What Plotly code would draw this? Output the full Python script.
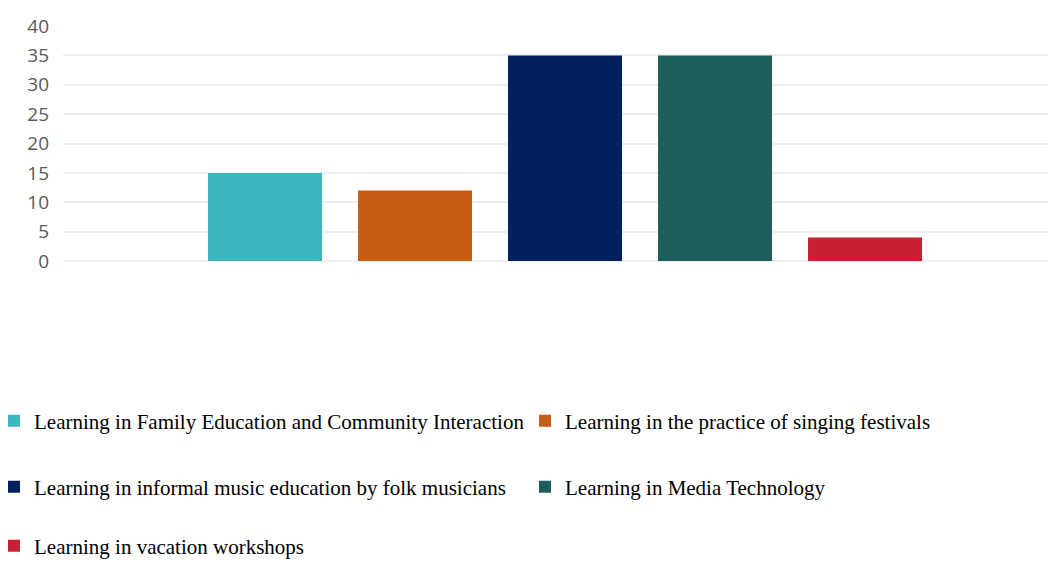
import plotly.graph_objects as go

categories = [""]
series_names = [
    "Learning in Family Education and Community Interaction",
    "Learning in the practice of singing festivals",
    "Learning in informal music education by folk musicians",
    "Learning in Media Technology",
    "Learning in vacation workshops",
]
series_values = [15, 12, 35, 35, 4]
series_colors = ["#3EB7BF", "#C65D12", "#002060", "#1B5E5B", "#C81F32"]
y_ticks = [0, 5, 10, 15, 20, 25, 30, 35, 40]

legend_ids = ["legend", "legend2", "legend3", "legend4", "legend5"]
fig = go.Figure()
for name, val, col, lg in zip(series_names, series_values, series_colors, legend_ids):
    fig.add_trace(go.Bar(x=categories, y=[val], name=name, marker_color=col,
                         marker_line_width=0, legend=lg))

# page has an 8px body margin, so the figure is drawn 8px in from the window corner
FW, FH = 1048, 555
L, R, T, B = 55, 0, 18, 302
plot_w = FW - L - R
plot_h = FH - T - B

def ypix(p):
    return (FH - B - p) / plot_h

def xpix(p):
    return (p - L) / plot_w

leg_left = [-14, 517, -14, 517, -14]
leg_row = [413, 413, 479, 479, 538]

legends = {}
for lg, lx, ly in zip(legend_ids, leg_left, leg_row):
    legends[lg] = dict(orientation="h", xanchor="left", yanchor="middle",
                       x=xpix(lx), y=ypix(ly),
                       font=dict(family="Liberation Serif", size=21, color="#000000"),
                       bgcolor="rgba(0,0,0,0)")

fig.update_layout(
    width=FW, height=FH,
    margin=dict(l=L, r=R, t=T, b=B, autoexpand=False),
    paper_bgcolor="white", plot_bgcolor="white",
    barmode="group", bargap=0.253, bargroupgap=0.24,
    showlegend=True,
    xaxis=dict(range=[-0.5, 0.489], showticklabels=False, showgrid=False,
               zeroline=False, showline=False, ticks=""),
    yaxis=dict(range=[0, 40], tickvals=y_ticks, showgrid=True, gridcolor="#EEEEEE",
               gridwidth=1.5, zeroline=True, zerolinecolor="#EEEEEE", zerolinewidth=1.5,
               showline=False, ticks="", ticklabelstandoff=13,
               tickfont=dict(family="Open Sans", size=19, color="#595959")),
    **legends,
)

fig.write_html("out.html")
